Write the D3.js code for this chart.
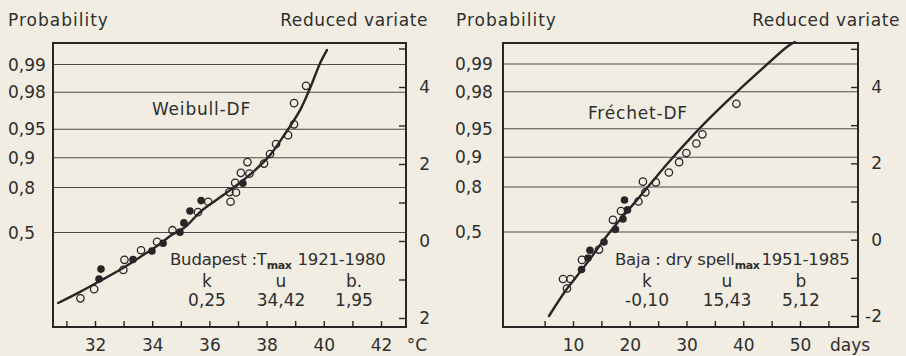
<!DOCTYPE html>
<html>
<head>
<meta charset="utf-8">
<script src="https://cdn.jsdelivr.net/npm/d3@7"></script>
<style>
  html, body { margin: 0; padding: 0; background: #f1ede3; }
  svg { display: block; font-family: "DejaVu Sans", sans-serif; }
  text { fill: #2e2e2e; }
</style>
</head>
<body>
<svg id="chart" width="906" height="356"></svg>
<script>
// Probability gridlines (Gumbel paper) shared by both panels
const probTicks  = [0.5, 0.8, 0.9, 0.95, 0.98, 0.99];
const probLabels = ["0,5", "0,8", "0,9", "0,95", "0,98", "0,99"];

// Reduced variate ticks on the right-hand axis
const reducedTicks = [-2, -1, 0, 1, 2, 3, 4, 5];
const reducedLabelsLeft  = { "4": "4", "2": "2", "0": "0", "-2": "2" };
const reducedLabelsRight = { "4": "4", "2": "2", "0": "0", "-2": "-2" };

// Temperature axis (°C)
const tempTicks  = [31, 32, 33, 34, 35, 36, 37, 38, 39, 40, 41, 42];
const tempLabels = [32, 34, 36, 38, 40, 42];

// Dry spell axis (days)
const dayTicks  = [5, 10, 15, 20, 25, 30, 35, 40, 45, 50, 55];
const dayLabels = [10, 20, 30, 40, 50];

// Budapest Tmax annual maxima, [°C, reduced variate]
const budapestOpen = [
  [31.49, -1.49], [31.97, -1.25], [32.99, -0.75], [33.03, -0.49], [33.61, -0.24],
  [34.17, -0.02], [34.71, 0.28], [35.60, 0.75], [35.96, 1.02], [36.74, 1.02],
  [36.70, 1.27], [36.93, 1.26], [36.90, 1.51], [37.10, 1.77], [37.40, 1.75],
  [37.33, 2.05], [37.91, 2.01], [38.12, 2.26], [38.33, 2.52], [38.75, 2.75],
  [38.96, 3.03], [38.96, 3.58], [39.38, 4.03]
];
const budapestFilled = [
  [32.21, -0.73], [32.14, -0.99], [33.33, -0.48], [33.99, -0.26], [34.38, -0.06],
  [34.97, 0.23], [35.11, 0.47], [35.32, 0.78], [35.71, 1.05], [37.17, 1.50]
];
// Fitted Weibull distribution function
const budapestCurve = [
  [30.71, -1.61], [31.48, -1.32], [32.17, -1.04], [32.98, -0.70], [33.57, -0.42],
  [34.17, -0.13], [34.69, 0.16], [35.15, 0.36], [35.67, 0.75], [36.23, 1.06],
  [36.83, 1.38], [37.52, 1.79], [38.12, 2.23], [38.64, 2.78], [39.17, 3.40],
  [39.52, 3.97], [39.87, 4.62], [40.11, 4.96]
];

// Baja maximum dry spells, [days, reduced variate]
const bajaOpen = [
  [8.24, -1.03], [9.56, -1.03], [8.94, -1.28], [11.58, -0.53], [14.58, -0.26],
  [17.04, 0.52], [18.45, 0.75], [21.53, 1.00], [22.76, 1.24], [22.32, 1.52],
  [24.61, 1.50], [26.90, 1.76], [28.70, 2.03], [29.98, 2.27], [31.74, 2.52],
  [32.80, 2.76], [38.79, 3.56]
];
const bajaFilled = [
  [11.50, -0.78], [12.64, -0.48], [12.99, -0.28], [15.46, -0.06], [17.48, 0.27],
  [18.80, 0.54], [19.60, 0.78], [19.07, 1.04]
];
// Fitted Fréchet distribution function
const bajaCurve = [
  [5.77, -2.00], [8.77, -1.32], [10.70, -0.95], [12.99, -0.51], [15.46, 0.00],
  [18.27, 0.52], [21.09, 1.01], [23.91, 1.51], [26.73, 2.01], [30.25, 2.59],
  [34.12, 3.19], [38.52, 3.82], [42.92, 4.42], [47.68, 5.05], [49.08, 5.18]
];

const ink = "#262626";
const gumbel = p => -Math.log(-Math.log(p));
const svg = d3.select("#chart");

function drawPanel(cfg) {
  const g = svg.append("g");
  const f = cfg.frame;

  const x  = d3.scaleLinear().domain(cfg.xDomain).range(cfg.xRange);
  const yR = d3.scaleLinear().domain([-2, 4]).range(cfg.yRRange);
  const yP = d3.scaleLinear().domain([gumbel(0.5), gumbel(0.99)]).range(cfg.yPRange);

  // headings
  g.append("text").attr("x", cfg.probTitleX).attr("y", 26)
    .attr("font-size", 17).attr("letter-spacing", 1).text("Probability");
  g.append("text").attr("x", cfg.rvTitleX).attr("y", 26)
    .attr("font-size", 17).attr("letter-spacing", 0.6).attr("text-anchor", "end")
    .text("Reduced variate");

  // probability gridlines and labels
  g.selectAll("line.grid").data(probTicks).join("line")
    .attr("class", "grid")
    .attr("x1", f.x0).attr("x2", f.x1)
    .attr("y1", d => yP(gumbel(d))).attr("y2", d => yP(gumbel(d)))
    .attr("stroke", "#4a4a4a").attr("stroke-width", 1.1);
  g.selectAll("text.prob").data(probTicks).join("text")
    .attr("class", "prob")
    .attr("x", cfg.probLabelX)
    .attr("y", d => yP(gumbel(d)))
    .attr("dy", "0.36em")
    .attr("font-size", 17)
    .text((d, i) => probLabels[i]);

  // right reduced-variate axis, ticks pointing inward
  const rAxis = d3.axisRight(yR)
    .tickValues(reducedTicks)
    .tickSizeInner(-7).tickSizeOuter(0).tickPadding(12)
    .tickFormat(d => cfg.rvLabels[String(d)] || "");
  const ra = g.append("g").attr("transform", `translate(${f.x1},0)`).call(rAxis);
  ra.select(".domain").remove();
  ra.selectAll("line").attr("stroke", ink).attr("stroke-width", 1.4);
  ra.selectAll("text").attr("font-size", 17).attr("font-family", "DejaVu Sans, sans-serif")
    .attr("fill", "#2e2e2e").attr("text-anchor", "end").attr("x", 24);

  // bottom axis, ticks pointing inward
  const bAxis = d3.axisBottom(x)
    .tickValues(cfg.xTicks)
    .tickSizeInner(-6).tickSizeOuter(0).tickPadding(12)
    .tickFormat(d => cfg.xLabels.includes(d) ? String(d) : "");
  const ba = g.append("g").attr("transform", `translate(0,${f.y1})`).call(bAxis);
  ba.select(".domain").remove();
  ba.selectAll("line").attr("stroke", ink).attr("stroke-width", 1.4);
  ba.selectAll("text").attr("font-size", 17).attr("font-family", "DejaVu Sans, sans-serif")
    .attr("fill", "#2e2e2e");

  // unit label
  g.append("text").attr("x", cfg.unitX).attr("y", 351)
    .attr("font-size", 17).attr("text-anchor", "middle").text(cfg.unit);

  // frame
  g.append("rect")
    .attr("x", f.x0).attr("y", f.y0)
    .attr("width", f.x1 - f.x0).attr("height", f.y1 - f.y0)
    .attr("fill", "none").attr("stroke", ink).attr("stroke-width", 2);

  // fitted distribution function
  const line = d3.line().x(d => x(d[0])).y(d => yR(d[1])).curve(d3.curveCatmullRom);
  g.append("path").datum(cfg.curve)
    .attr("d", line)
    .attr("fill", "none").attr("stroke", ink).attr("stroke-width", 2.4)
    .attr("stroke-linecap", "round");

  // observations
  g.selectAll("circle.open").data(cfg.open).join("circle")
    .attr("class", "open")
    .attr("cx", d => x(d[0])).attr("cy", d => yR(d[1])).attr("r", 3.7)
    .attr("fill", "none").attr("stroke", ink).attr("stroke-width", 1.3);
  g.selectAll("circle.filled").data(cfg.filled).join("circle")
    .attr("class", "filled")
    .attr("cx", d => x(d[0])).attr("cy", d => yR(d[1])).attr("r", 3.8)
    .attr("fill", ink);

  // distribution name
  g.append("text").attr("x", cfg.nameX).attr("y", cfg.nameY)
    .attr("font-size", 17).attr("letter-spacing", 0.8).text(cfg.name);

  // station caption with subscript
  const cap = g.append("text").attr("x", cfg.capX).attr("y", 265)
    .attr("font-size", 16.5).attr("letter-spacing", -0.2);
  cap.append("tspan").text(cfg.capA);
  cap.append("tspan").attr("font-size", 11).attr("font-weight", "bold")
    .attr("letter-spacing", -0.4).attr("dy", 4).text("max");
  cap.append("tspan").attr("dy", -4).attr("dx", cfg.capGap).text(cfg.capB);

  // parameter table
  cfg.params.forEach(p => {
    g.append("text").attr("x", p.x).attr("y", 287).attr("font-size", 17)
      .attr("text-anchor", "middle").text(p.name);
    g.append("text").attr("x", p.x).attr("y", 306).attr("font-size", 17)
      .attr("text-anchor", "middle").text(p.value);
  });
}

drawPanel({
  frame: { x0: 53, x1: 406, y0: 43, y1: 327 },
  xDomain: [32, 42], xRange: [95, 381],
  yRRange: [318, 87], yPRange: [232.5, 64.5],
  xTicks: tempTicks, xLabels: tempLabels,
  rvLabels: reducedLabelsLeft,
  probTitleX: 8, rvTitleX: 428, probLabelX: 8,
  unit: "°C", unitX: 417,
  curve: budapestCurve, open: budapestOpen, filled: budapestFilled,
  name: "Weibull-DF", nameX: 152, nameY: 115,
  capX: 170, capA: "Budapest :T", capB: "1921-1980", capGap: 6,
  params: [
    { name: "k", value: "0,25", x: 207 },
    { name: "u", value: "34,42", x: 281 },
    { name: "b.", value: "1,95", x: 354 }
  ]
});

drawPanel({
  frame: { x0: 503, x1: 858, y0: 43, y1: 327 },
  xDomain: [10, 50], xRange: [573, 800],
  yRRange: [316, 87], yPRange: [232, 64],
  xTicks: dayTicks, xLabels: dayLabels,
  rvLabels: reducedLabelsRight,
  probTitleX: 456, rvTitleX: 900, probLabelX: 455,
  unit: "days", unitX: 850,
  curve: bajaCurve, open: bajaOpen, filled: bajaFilled,
  name: "Fréchet-DF", nameX: 588, nameY: 119,
  capX: 615, capA: "Baja : dry spell", capB: "1951-1985", capGap: 2,
  params: [
    { name: "k", value: "-0,10", x: 647 },
    { name: "u", value: "15,43", x: 727 },
    { name: "b", value: "5,12", x: 801 }
  ]
});
</script>
</body>
</html>
